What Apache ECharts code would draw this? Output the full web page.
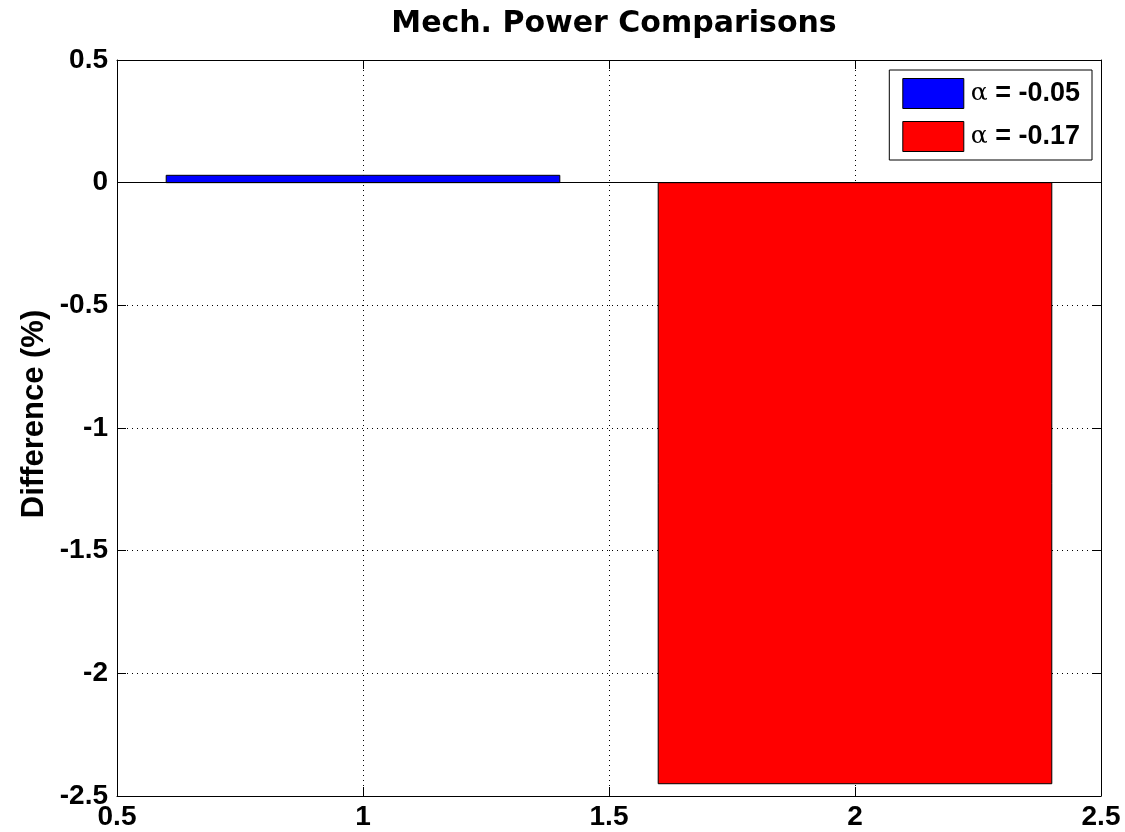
<!DOCTYPE html>
<html>
<head>
<meta charset="utf-8">
<script src="https://cdn.jsdelivr.net/npm/echarts@6/dist/echarts.min.js"></script>
<style>html,body{margin:0;padding:0;background:#fff;}#c{width:1125px;height:832px;}</style>
</head>
<body>
<div id="c"></div>
<script>
const xPositions = [1, 2];
const seriesNames = ['α = -0.05', 'α = -0.17'];
const values = [0.03, -2.45];
const barColors = ['#0000ff', '#ff0000'];

const FONT = '"Liberation Sans", Arial, sans-serif';
const TFONT = '"DejaVu Sans", Verdana, sans-serif';
const chart = echarts.init(document.getElementById('c'));

function makeSeries(i) {
  return {
    name: seriesNames[i],
    type: 'custom',
    data: [[xPositions[i], values[i]]],
    itemStyle: { color: barColors[i] },
    renderItem: function (params, api) {
      const x = api.value(0), v = api.value(1);
      const p1 = api.coord([x - 0.4, Math.max(v, 0)]);
      const p2 = api.coord([x + 0.4, Math.min(v, 0)]);
      return {
        type: 'rect',
        shape: { x: p1[0], y: p1[1], width: p2[0] - p1[0], height: p2[1] - p1[1] },
        style: { fill: barColors[i], stroke: '#000', lineWidth: 1 }
      };
    },
    z: 3
  };
}

const axisCommon = {
  axisLine: { show: true, onZero: false, lineStyle: { color: '#000', width: 1 } },
  axisTick: { show: true, inside: true, length: 9, lineStyle: { color: '#000' } },
};

const series = [makeSeries(0), makeSeries(1)];
series.push({
  type: 'line', data: [], silent: true, z: 4,
  markLine: {
    silent: true, symbol: 'none', label: { show: false },
    lineStyle: { color: '#000', type: 'solid', width: 1 },
    data: [{ yAxis: 0 }]
  }
});

chart.setOption({
  animation: false,
  backgroundColor: '#fff',
  title: {
    text: 'Mech. Power Comparisons',
    left: 609, top: 4, textAlign: 'center',
    textStyle: { fontFamily: TFONT, fontWeight: 'bold', fontSize: 30, color: '#000' }
  },
  graphic: [{
    type: 'text', x: 34, y: 414, rotation: Math.PI / 2,
    style: { text: 'Difference (%)', fill: '#000', font: 'bold 31px ' + FONT,
      textAlign: 'center', textVerticalAlign: 'middle' }
  }],
  grid: { left: 117, right: 24, top: 60, bottom: 36 },
  legend: {
    right: 33, top: 70,
    orient: 'vertical',
    data: seriesNames,
    itemWidth: 61, itemHeight: 30, itemGap: 12,
    padding: [8, 12, 8, 13],
    borderColor: '#000', borderWidth: 1, backgroundColor: '#fff',
    icon: 'rect',
    itemStyle: { borderColor: '#000', borderWidth: 1 },
    formatter: function (name) { return '{a|α}{b|' + name.slice(1) + '}'; },
    textStyle: {
      padding: [0, 0, 0, 2],
      rich: {
        a: { fontFamily: '"DejaVu Serif", serif', fontSize: 25, color: '#000' },
        b: { fontFamily: FONT, fontWeight: 'bold', fontSize: 27, color: '#000' }
      }
    }
  },
  xAxis: [
    Object.assign({
      type: 'value', min: 0.5, max: 2.5, interval: 0.5, position: 'bottom',
      axisLabel: { color: '#000', fontFamily: FONT, fontWeight: 'bold', fontSize: 28, margin: 7,
        formatter: v => String(v) },
      splitLine: { show: true, lineStyle: { color: '#000', type: [1, 4], width: 1 } }
    }, axisCommon),
    Object.assign({
      type: 'value', min: 0.5, max: 2.5, interval: 0.5, position: 'top',
      axisLabel: { show: false }, splitLine: { show: false }
    }, axisCommon)
  ],
  yAxis: [
    Object.assign({
      type: 'value', min: -2.5, max: 0.5, interval: 0.5, position: 'left',
      axisLabel: { color: '#000', fontFamily: FONT, fontWeight: 'bold', fontSize: 28, margin: 9,
        formatter: v => String(v) },
      splitLine: { show: true, lineStyle: { color: '#000', type: [1, 4], width: 1 } }
    }, axisCommon),
    Object.assign({
      type: 'value', min: -2.5, max: 0.5, interval: 0.5, position: 'right',
      axisLabel: { show: false }, splitLine: { show: false }
    }, axisCommon)
  ],
  series: series
});
</script>
</body>
</html>
